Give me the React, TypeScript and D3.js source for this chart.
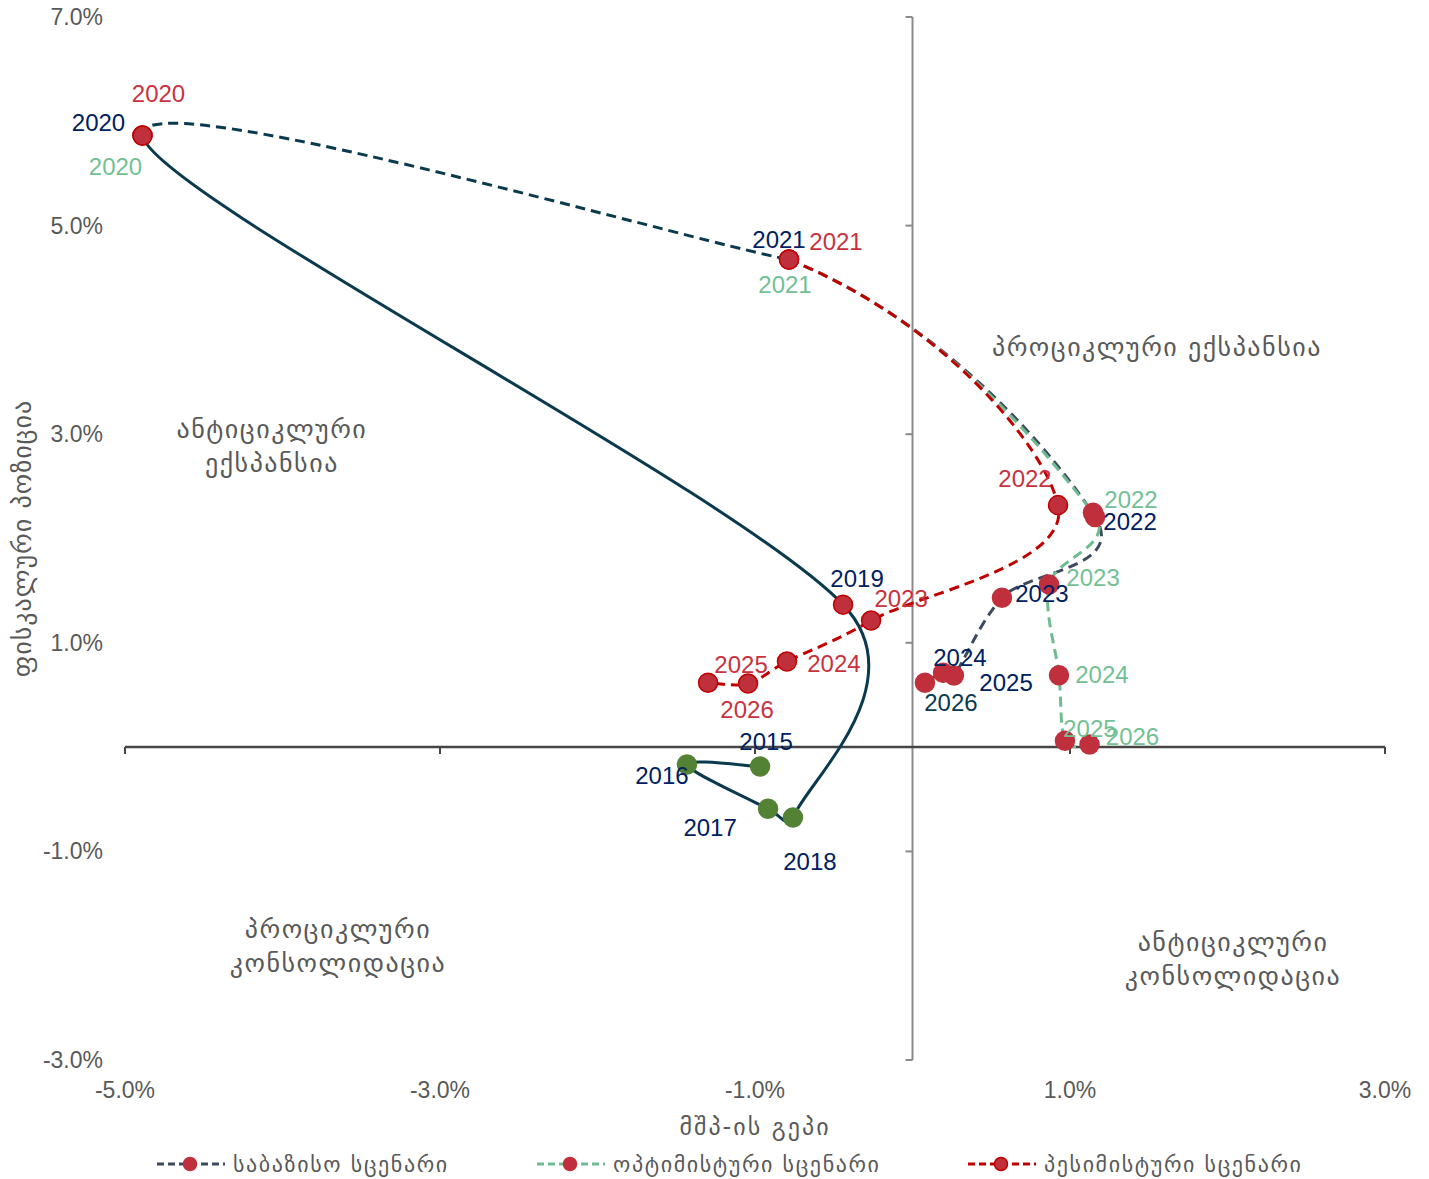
import React, { useEffect } from "react";
import * as d3 from "d3";

// fiscal stance (y) vs output gap (x), percent
const histYears = ["2015", "2016", "2017", "2018", "2019", "2020", "2021"];
const histGap = [-0.968, -1.432, -0.917, -0.759, -0.441, -4.889, -0.784];
const histFiscal = [-0.187, -0.168, -0.59, -0.676, 1.366, 5.863, 4.674];

const scenYears = ["2020", "2021", "2022", "2023", "2024", "2025", "2026"];
const baseGap = [-4.889, -0.784, 1.159, 0.568, 0.263, 0.194, 0.079];
const baseFiscal = [5.863, 4.674, 2.205, 1.433, 0.686, 0.714, 0.618];
const optGap = [-4.889, -0.784, 1.146, 0.867, 0.93, 0.968, 1.124];
const optFiscal = [5.863, 4.674, 2.248, 1.558, 0.69, 0.062, 0.024];
const pesGap = [-4.889, -0.784, 0.924, -0.263, -0.797, -1.044, -1.298];
const pesFiscal = [5.863, 4.674, 2.32, 1.213, 0.82, 0.609, 0.618];

const xTicks = [-5, -3, -1, 1, 3];
const yTicks = [7, 5, 3, 1, -1, -3];

const legendNames = ["საბაზისო სცენარი", "ოპტიმისტური სცენარი", "პესიმისტური სცენარი"];

// label offsets in px (centre of label relative to the marker)
const histLabelOff = [[6, -25], [-25, 11], [-58, 19], [17, 44], [14, -26]];
const baseLabelOff = [[-44, -13], [-10, -20], [35, 4], [40, -4], [6, -18], [63, 10], [26, 20]];
const optLabelOff = [[-27, 31], [-4, 25], [38, -13], [44, -7], [43, -1], [25, -12], [43, -8]];
const pesLabelOff = [[16, -42], [47, -18], [-33, -27], [30, -22], [47, 2], [-7, -19], [39, 27]];

const W = 1429;
const H = 1179;

const HIST = "#0b3a4f";
const BASE = "#3d4a5d";
const OPT = "#6fbb92";
const PES = "#c00000";
const DOT = "#c0303c";
const NAVY = "#002060";
const RED_TXT = "#c8323e";
const GRN_TXT = "#73bf94";
const GRAY = "#595959";
const GEO = "'DejaVu Sans', 'Noto Sans', sans-serif";
const NUM = "'Liberation Sans', Arial, sans-serif";

type P = [number, number];

// Excel-like smoothing: Catmull-Rom tangents (1/6), control arm capped at half the segment
function smoothPath(pts: P[], from: number, to: number) {
	const n = pts.length;
	const tan = (i: number): P => {
		const a = pts[Math.max(i - 1, 0)];
		const b = pts[Math.min(i + 1, n - 1)];
		return [(b[0] - a[0]) / 6, (b[1] - a[1]) / 6];
	};
	const cap = (t: P, segLen: number): P => {
		const l = Math.hypot(t[0], t[1]);
		const m = segLen / 2;
		return l > m && l > 0 ? [(t[0] * m) / l, (t[1] * m) / l] : t;
	};
	const p = d3.path();
	for (let i = from; i < to; i++) {
		const p0 = pts[i];
		const p1 = pts[i + 1];
		const len = Math.hypot(p1[0] - p0[0], p1[1] - p0[1]);
		const t0 = cap(tan(i), len);
		const t1 = cap(tan(i + 1), len);
		if (i === from) p.moveTo(p0[0], p0[1]);
		p.bezierCurveTo(p0[0] + t0[0], p0[1] + t0[1], p1[0] - t1[0], p1[1] - t1[1], p1[0], p1[1]);
	}
	return p.toString();
}

const App: React.FC = () => {
	useEffect(() => {
		document.body.style.margin = "0";
	}, []);

	const x = d3.scaleLinear().domain([-5, 3]).range([125, 1385]);
	const y = d3.scaleLinear().domain([-3, 7]).range([1060, 17]);

	const toPts = (gx: number[], fy: number[]): P[] => gx.map((g, i) => [x(g), y(fy[i])]);
	const hist = toPts(histGap, histFiscal);
	const base = toPts(baseGap, baseFiscal);
	const opt = toPts(optGap, optFiscal);
	const pes = toPts(pesGap, pesFiscal);

	const scen = [
		{ pts: base, color: BASE, labels: baseLabelOff, txt: NAVY, stroke: false },
		{ pts: opt, color: OPT, labels: optLabelOff, txt: GRN_TXT, stroke: false },
		{ pts: pes, color: PES, labels: pesLabelOff, txt: RED_TXT, stroke: true },
	];

	const quadrants = [
		{ gx: 1.552, fy: 3.82, lines: ["პროციკლური ექსპანსია"] },
		{ gx: -4.067, fy: 3.035, lines: ["ანტიციკლური", "ექსპანსია"] },
		{ gx: -3.648, fy: -1.76, lines: ["პროციკლური", "კონსოლიდაცია"] },
		{ gx: 2.035, fy: -1.884, lines: ["ანტიციკლური", "კონსოლიდაცია"] },
	];

	const legendX = [190, 570, 1001];
	const legendColors = [BASE, OPT, PES];

	return (
		<svg width={W} height={H} style={{ display: "block", background: "#fff" }}>
			{/* axes */}
			<line x1={x(0)} x2={x(0)} y1={y(7)} y2={y(-3)} stroke="#8a8a8a" strokeWidth={2} />
			{yTicks.map((t) => (
				<line key={"yt" + t} x1={x(0) - 7} x2={x(0)} y1={y(t)} y2={y(t)} stroke="#8a8a8a" strokeWidth={2} />
			))}
			<line x1={x(-5)} x2={x(3)} y1={y(0)} y2={y(0)} stroke="#454545" strokeWidth={2.5} />
			{xTicks.map((t) => (
				<line key={"xt" + t} x1={x(t)} x2={x(t)} y1={y(0)} y2={y(0) + 7} stroke="#454545" strokeWidth={2} />
			))}

			{yTicks.map((t) => (
				<text key={"yl" + t} x={103} y={y(t)} textAnchor="end" dominantBaseline="central"
					fontFamily={NUM} fontSize={23} fill={GRAY}>
					{t.toFixed(1) + "%"}
				</text>
			))}
			{xTicks.map((t) => (
				<text key={"xl" + t} x={x(t)} y={1090} textAnchor="middle" dominantBaseline="central"
					fontFamily={NUM} fontSize={23} fill={GRAY}>
					{t.toFixed(1) + "%"}
				</text>
			))}

			<text x={(x(-5) + x(3)) / 2} y={1127} textAnchor="middle" dominantBaseline="central"
				fontFamily={GEO} fontSize={24} letterSpacing={2} fill={GRAY}>
				მშპ-ის გეპი
			</text>
			<text transform={`translate(22,${(y(7) + y(-3)) / 2}) rotate(-90)`} textAnchor="middle"
				dominantBaseline="central" fontFamily={GEO} fontSize={26} letterSpacing={1} fill={GRAY}>
				ფისკალური პოზიცია
			</text>

			{/* quadrant captions */}
			{quadrants.map((q, i) => (
				<text key={"q" + i} x={x(q.gx)} y={y(q.fy)} textAnchor="middle" fontFamily={GEO}
					fontSize={26} letterSpacing={1.5} fill={GRAY}>
					{q.lines.map((l, j) => (
						<tspan key={j} x={x(q.gx)} dy={j === 0 ? "0.3em" : "1.3em"}>{l}</tspan>
					))}
				</text>
			))}

			{/* historical line: solid up to 2020, dashed 2020-2021 */}
			<path d={smoothPath(hist, 0, 5)} fill="none" stroke={HIST} strokeWidth={3} />
			<path d={smoothPath(hist, 5, 6)} fill="none" stroke={HIST} strokeWidth={3} strokeDasharray="10 6" />

			{/* scenario lines start at 2021 */}
			{scen.map((s, i) => (
				<path key={"sl" + i} d={smoothPath(s.pts, 1, s.pts.length - 1)} fill="none"
					stroke={s.color} strokeWidth={3} strokeDasharray="10 6" />
			))}

			{/* markers */}
			{hist.slice(0, 5).map((p, i) => (
				<circle key={"hm" + i} cx={p[0]} cy={p[1]} r={9.5}
					fill={i < 4 ? "#548235" : DOT} stroke={i < 4 ? "#548235" : PES} strokeWidth={1.5} />
			))}
			{scen.map((s, k) =>
				s.pts.map((p, i) => (
					<circle key={"sm" + k + "-" + i} cx={p[0]} cy={p[1]} r={9.5} fill={DOT}
						stroke={s.stroke ? PES : DOT} strokeWidth={1.5} />
				))
			)}

			{/* year labels */}
			{histLabelOff.map((o, i) => (
				<text key={"hl" + i} x={hist[i][0] + o[0]} y={hist[i][1] + o[1]} textAnchor="middle"
					dominantBaseline="central" fontFamily={NUM} fontSize={24} fill={NAVY}>
					{histYears[i]}
				</text>
			))}
			{scen.map((s, k) =>
				s.labels.map((o, i) => (
					<text key={"lab" + k + "-" + i} x={s.pts[i][0] + o[0]} y={s.pts[i][1] + o[1]}
						textAnchor="middle" dominantBaseline="central" fontFamily={NUM} fontSize={24}
						fill={k === 0 && i === 6 ? HIST : s.txt}>
						{scenYears[i]}
					</text>
				))
			)}

			{/* legend */}
			{legendNames.map((name, i) => (
				<g key={"lg" + i}>
					<line x1={legendX[i] - 33} x2={legendX[i] + 35} y1={1164} y2={1164}
						stroke={legendColors[i]} strokeWidth={3} strokeDasharray="7 4" />
					<circle cx={legendX[i]} cy={1164} r={6.5} fill={DOT}
						stroke={i === 2 ? PES : DOT} strokeWidth={1.5} />
					<text x={legendX[i] + 43} y={1164} dominantBaseline="central" fontFamily={GEO}
						fontSize={22} letterSpacing={1.6} fill={GRAY}>
						{name}
					</text>
				</g>
			))}
		</svg>
	);
};

export default App;
